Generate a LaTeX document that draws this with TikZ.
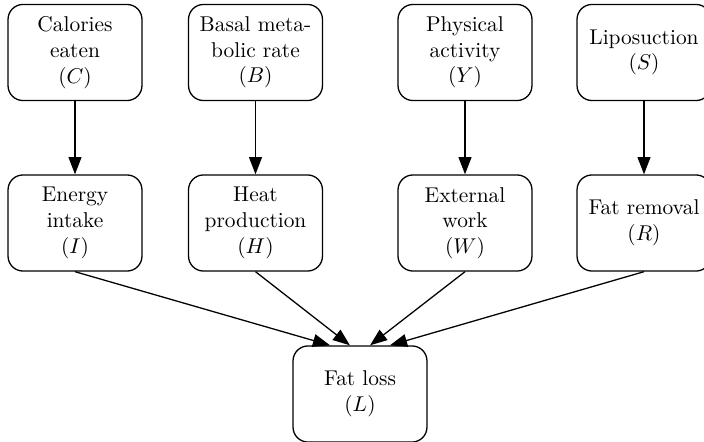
\documentclass[tikz,border=0pt]{standalone}
\usetikzlibrary{arrows.meta}

\begin{document}
\begin{tikzpicture}[x=0.4673pt, y=-0.4673pt,
    var/.style={draw, rounded corners=7pt, minimum width=62.6pt, minimum height=44.9pt,
        align=center, inner sep=2pt, line width=0.6pt},
    link/.style={-{Triangle[length=8pt,width=6pt]}, line width=0.6pt}]
    \useasboundingbox (0,0) rectangle (704,441);

    % Top row: what we control
    \node[var] (C) at (75,52.5) {Calories\\eaten\\$(C)$};
    \node[var] (B) at (255.5,52.5) {Basal meta-\\bolic rate\\$(B)$};
    \node[var] (Y) at (465,52.5) {Physical\\activity\\$(Y)$};
    \node[var] (S) at (644,52.5) {Liposuction\\$(S)$};

    % Middle row: energy flows
    \node[var] (I) at (75,223) {Energy\\intake\\$(I)$};
    \node[var] (H) at (255.5,223) {Heat\\production\\$(H)$};
    \node[var] (W) at (465,223) {External\\work\\$(W)$};
    \node[var] (R) at (644,223) {Fat removal\\$(R)$};

    % Outcome
    \node[var] (L) at (360,394) {Fat loss\\$(L)$};

    % Arrows down
    \draw[link] (C) -- (I);
    \draw[link] (B) -- (H);
    \draw[link] (Y) -- (W);
    \draw[link] (S) -- (R);

    % Arrows into fat loss
    \draw[link] (I.south) -- ([xshift=-14pt]L.north);
    \draw[link] (H.south) -- ([xshift=-4.7pt]L.north);
    \draw[link] (W.south) -- ([xshift=4.7pt]L.north);
    \draw[link] (R.south) -- ([xshift=14pt]L.north);
\end{tikzpicture}
\end{document}
